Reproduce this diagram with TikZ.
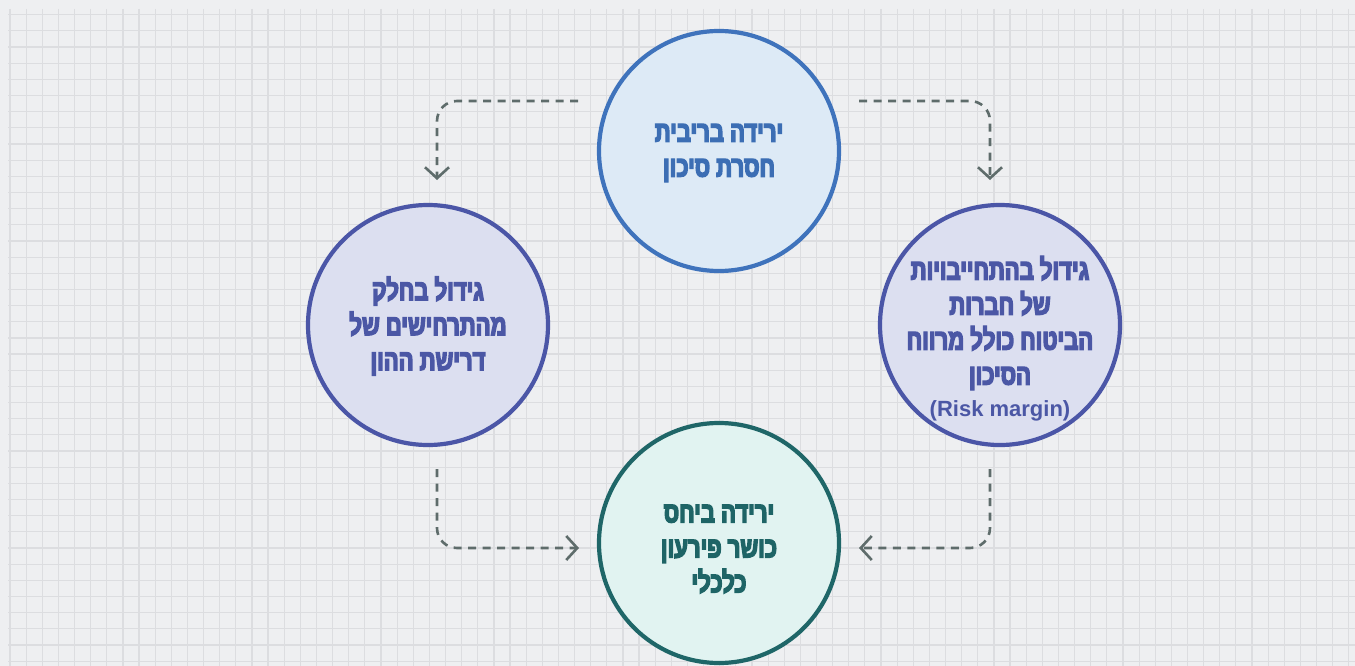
\documentclass[tikz,border=0pt]{standalone}
\usepackage{fontspec}
\usetikzlibrary{arrows.meta}
\TeXXeTstate=1
\newfontfamily\hebfont[Script=Hebrew,FakeStretch=0.76,FakeBold=5]{Liberation Sans Bold}
\newfontfamily\latfont{Liberation Sans Bold}
\newcommand\rtl[1]{\beginR #1\endR}
\definecolor{bgcol}{HTML}{EEEFF1}
\definecolor{gridcol}{HTML}{DCDDE0}
\definecolor{topfill}{HTML}{DDEAF6}
\definecolor{topline}{HTML}{3F73BC}
\definecolor{toptext}{HTML}{3C6EB4}
\definecolor{sidefill}{HTML}{DCDFF0}
\definecolor{sideline}{HTML}{4B56A7}
\definecolor{sidetext}{HTML}{4B57A5}
\definecolor{botfill}{HTML}{E1F3F1}
\definecolor{botline}{HTML}{1F6668}
\definecolor{bottext}{HTML}{1E6466}
\definecolor{arrcol}{HTML}{5E6C6B}
\begin{document}
\begin{tikzpicture}[x=1pt,y=-1pt,
  bubble/.style={circle, line width=4.2pt, minimum size=240pt, inner sep=0pt},
  label/.style={align=center, inner sep=0pt, font=\hebfont\fontsize{29}{35}\selectfont},
  flow/.style={draw=arrcol, line width=2.6pt, dash pattern=on 8pt off 6.5pt, rounded corners=20pt,
    -{Straight Barb[length=11pt,width=24pt,line width=2.6pt]}}]
\fill[bgcol] (0,0) rectangle (1355,666);
\useasboundingbox (0,0) rectangle (1355,666);
\begin{scope}
\clip (8,9) rectangle (1355,666);
\foreach \i in {0,...,83} \draw[gridcol, line width=1.2pt] ({10+16.13*\i},9) -- ({10+16.13*\i},666);
\foreach \j in {0,...,40} \draw[gridcol, line width=1.2pt] (8,{14.7+16.16*\j}) -- (1355,{14.7+16.16*\j});
\end{scope}

\node[bubble, draw=topline, fill=topfill] (top) at (719,151) {};
\node[bubble, draw=sideline, fill=sidefill] (left) at (428,325) {};
\node[bubble, draw=sideline, fill=sidefill] (right) at (1000,325) {};
\node[bubble, draw=botline, fill=botfill] (bot) at (719,543) {};

\node[label, text=toptext] (toptxt) at (719,153) {\rtl{ירידה בריבית}\\\rtl{חסרת סיכון}};
\node[label, text=sidetext] (lefttxt) at (428,326) {\rtl{גידול בחלק}\\\rtl{מהתרחישים של}\\\rtl{דרישת ההון}};
\node[label, text=sidetext] (righttxt) at (1000,323) {\rtl{גידול בהתחייבויות}\\\rtl{של חברות}\\\rtl{הביטוח כולל מרווח}\\\rtl{הסיכון}};
\node[inner sep=0pt, text=sidetext, font=\latfont\fontsize{22}{26}\selectfont] (risk) at (1000,411) {(Risk margin)};
\node[label, text=bottext] (bottxt) at (719,549) {\rtl{ירידה ביחס}\\\rtl{כושר פירעון}\\\rtl{כלכלי}};

\coordinate (tlA) at (578,101);
\coordinate (tlB) at (437,101);
\coordinate (tlC) at (437,180);
\coordinate (trA) at (859,101);
\coordinate (trB) at (990,101);
\coordinate (trC) at (990,180);
\coordinate (blA) at (437,469);
\coordinate (blB) at (437,548);
\coordinate (blC) at (579,548);
\coordinate (brA) at (990,469);
\coordinate (brB) at (990,548);
\coordinate (brC) at (859,548);
\draw[flow] (tlA) -- (tlB) -- (tlC);
\draw[flow] (trA) -- (trB) -- (trC);
\draw[flow] (blA) -- (blB) -- (blC);
\draw[flow] (brA) -- (brB) -- (brC);
\end{tikzpicture}
\end{document}
